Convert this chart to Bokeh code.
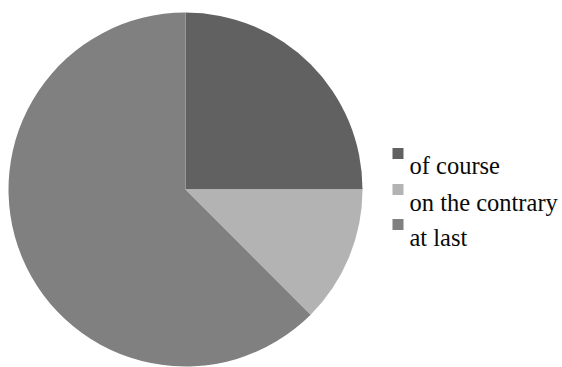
import math
from bokeh.plotting import figure
from bokeh.models import ColumnDataSource, Range1d
from bokeh.core.properties import value
from bokeh.embed import file_html
from bokeh.resources import INLINE

categories = ["of course", "on the contrary", "at last"]
values = [2, 1, 5]
colors = ["#616161", "#b3b3b3", "#808080"]

W, H = 562, 367
p = figure(width=W, height=H, output_backend="svg", toolbar_location=None,
           x_range=Range1d(0, W), y_range=Range1d(0, H), min_border=0)
p.axis.visible = False
p.grid.visible = False
p.outline_line_color = None
p.background_fill_color = "white"
p.border_fill_color = "white"

total = sum(values)
starts, ends = [], []
acc = 0.0
for v in values:
    s = math.pi / 2 - 2 * math.pi * acc / total
    acc += v
    e = math.pi / 2 - 2 * math.pi * acc / total
    starts.append(s)
    ends.append(e)

cx, cy, r = 185, H - 189, 177
src = ColumnDataSource(dict(cat=categories, val=values, color=colors, start=starts, end=ends))
p.wedge(x=cx, y=cy, radius=r, start_angle="end", end_angle="start",
        fill_color="color", line_color=None, source=src)

# legend
lx_sq, lx_txt = 397.5, 409
base_y = [165, 202, 237]
sq_y = [153, 189, 224]
leg = ColumnDataSource(dict(
    cat=categories, color=colors,
    sx=[lx_sq] * 3, sy=[H - y for y in sq_y],
    tx=[lx_txt] * 3, ty=[H - y for y in base_y]))
p.rect(x="sx", y="sy", width=11, height=11, fill_color="color", line_color=None, source=leg)
p.text(x="tx", y="ty", text="cat", text_font=value("Liberation Serif"),
       text_font_size="24.5px", text_color="#0a0a0a", text_baseline="alphabetic",
       text_align="left", source=leg)

open("out.html", "w").write(file_html(p, INLINE))
